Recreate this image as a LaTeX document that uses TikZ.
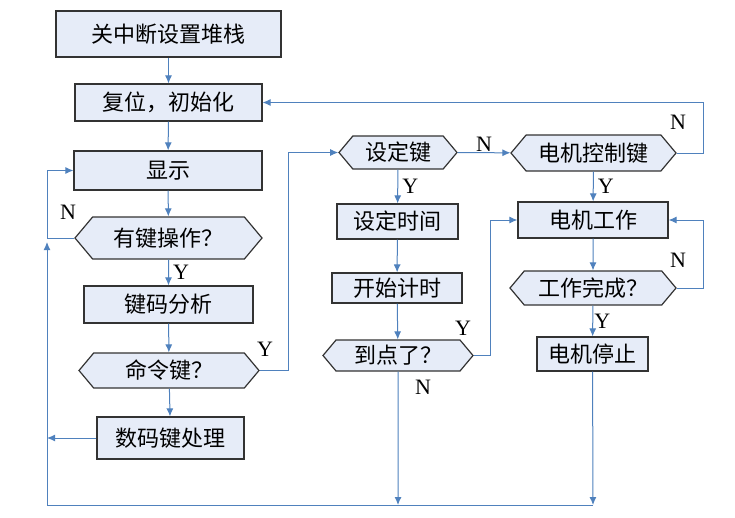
\documentclass[tikz,border=0pt]{standalone}
\usepackage{fontspec}
\setmainfont{Liberation Serif}
\newfontfamily\cjk{Noto Sans CJK SC}
\usetikzlibrary{arrows.meta, shapes.symbols}
\definecolor{boxfill}{RGB}{230,236,248}
\definecolor{flowblue}{RGB}{79,129,189}
\tikzset{
    x=1pt, y=-1pt, % one unit is one pixel of the reference
    every node/.style={font=\cjk\fontsize{22}{24}\selectfont, inner sep=0pt},
    stepbox/.style={draw=black!80, line width=1.2pt, fill=boxfill}, % process boxes
    askbox/.style={stepbox, signal, signal to=west and east, signal pointer angle=100}, % decisions
    flow/.style={draw=flowblue, line width=1pt, -{Latex[length=8pt,width=7pt]}}, % connectors
    yn/.style={font=\fontsize{22}{24}\selectfont}, % Y and N labels
}
\begin{document}
\begin{tikzpicture}
\useasboundingbox (0,0) rectangle (735,517);
% left column
\node[stepbox, minimum width=225, minimum height=46] (stack) at (168.5,34) {关中断设置堆栈};
\node[stepbox, minimum width=187, minimum height=37] (reset) at (168.5,102.5) {复位，初始化};
\node[stepbox, minimum width=188, minimum height=39] (show) at (168,170.5) {显示};
\node[askbox, minimum width=187, minimum height=42] (anykey) at (168.5,238) {有键操作？};
\node[stepbox, minimum width=169, minimum height=37] (parse) at (168.5,304.5) {键码分析};
\node[askbox, minimum width=180, minimum height=35] (cmdkey) at (169,370.5) {命令键？};
\node[stepbox, minimum width=147, minimum height=42] (numkey) at (170.5,438) {数码键处理};
% middle column
\node[askbox, minimum width=118, minimum height=33] (setkey) at (398,152.5) {设定键};
\node[stepbox, minimum width=121, minimum height=35] (settime) at (397.5,221.5) {设定时间};
\node[stepbox, minimum width=130, minimum height=30] (timer) at (397,288) {开始计时};
\node[askbox, minimum width=150, minimum height=31] (due) at (398,355.5) {到点了？};
% right column
\node[askbox, minimum width=165, minimum height=36] (motorkey) at (593.5,153) {电机控制键};
\node[stepbox, minimum width=150, minimum height=36] (run) at (593,220) {电机工作};
\node[askbox, minimum width=166, minimum height=34] (done) at (593,288) {工作完成？};
\node[stepbox, minimum width=111, minimum height=34] (halt) at (592.5,354) {电机停止};
% corner points of the return lines
\coordinate (bl) at (47,505);
\coordinate (bm) at (398,505);
\coordinate (br) at (593,505);

\draw[flow] (stack) -- (reset);
\draw[flow] (reset) -- (show);
\draw[flow] (show) -- (anykey);
\draw[flow] (anykey) -- node[yn, right=4pt] {Y} (parse);
\draw[flow] (parse) -- (cmdkey);
\draw[flow] (cmdkey) -- (numkey);
\draw[flow] (numkey.west) -- (bl |- numkey.west);
\draw[flow] (anykey.west) -- (bl |- anykey.west) |- (show.west);
\node[yn] (n1) at (68,212) {N};
\draw[flow] (br) -- (bl) -- ([yshift=-4]bl |- anykey.west);
\draw[flow] (cmdkey.east) -- (288,370.5) |- (setkey.west);
\node[yn] (y1) at (265,349) {Y};
\draw[flow] (setkey) -- node[yn, above=1pt] {N} (motorkey);
\draw[flow] (motorkey.east) -- (703,153) |- (reset.east);
\node[yn] (n2) at (678,122) {N};
\draw[flow] (setkey) -- node[yn, right=4pt] {Y} (settime);
\draw[flow] (settime) -- (timer);
\draw[flow] (timer) -- (due);
\draw[flow] (due.east) -- (490,355.5) |- (run.west);
\node[yn] (y2) at (463,328) {Y};
\draw[flow] (due) -- (bm);
\node[yn] (n3) at (423,387) {N};
\draw[flow] (motorkey) -- node[yn, right=4pt] {Y} (run);
\draw[flow] (run) -- (done);
\draw[flow] (done.east) -- (703,288) |- (run.east);
\node[yn] (n4) at (678,260) {N};
\draw[flow] (done) -- node[yn, right=1pt] {Y} (halt);
\draw[flow] (halt) -- (br);
\end{tikzpicture}
\end{document}
